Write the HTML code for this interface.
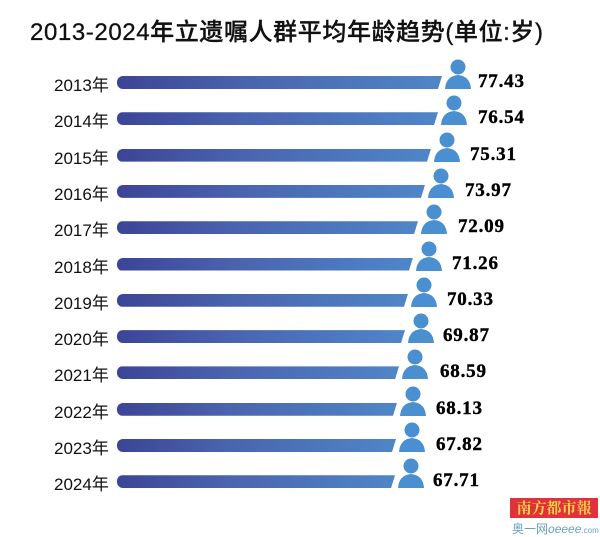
<!DOCTYPE html>
<html><head><meta charset="utf-8"><style>
body{margin:0;width:600px;height:536px;background:#fff;position:relative;overflow:hidden;font-family:"Liberation Sans","Noto Sans CJK SC",sans-serif}
.t{position:absolute;left:30px;top:12px;font-size:24px;color:#111;white-space:nowrap;letter-spacing:0.6px;font-weight:500;-webkit-text-stroke:0.3px #111}
.y{position:absolute;left:54px;font-size:17px;color:#111;width:64px}
.b{position:absolute;left:117px;height:13px;border-radius:6px 0 0 6px;background:linear-gradient(90deg,#3c4496,#4a64ae 40%,#4f86c8);clip-path:polygon(0 0,100% 0,calc(100% - 4px) 100%,0 100%)}
.i{position:absolute;width:28px;height:30px}
.v{position:absolute;font-family:"Liberation Serif",serif;font-weight:bold;font-size:19px;color:#000;letter-spacing:0.8px;-webkit-text-stroke:0.4px #000}
</style></head><body>
<div class="t">2013-2024年立遗嘱人群平均年龄趋势(单位:岁)</div>
<div id="c"></div>
<div style="position:absolute;left:510px;top:498px;width:88px;height:20px;background:#e0323a;color:#f7d54a;font-size:15px;line-height:20px;text-align:center;font-family:'Noto Serif CJK SC',serif;font-weight:bold">南方都市報</div>
<div style="position:absolute;left:512px;top:520px;font-size:12px;color:#6b9fb8;white-space:nowrap">奥一网<i>oeeee</i><span style="font-size:8px">.com</span></div>
<script>
var d=[["2013",77.43,444,478],["2014",76.54,440,478],["2015",75.31,433,470],["2016",73.97,427,465],["2017",72.09,420,458],["2018",71.26,415,452],["2019",70.33,410,447],["2020",69.87,407,443],["2021",68.59,401,440],["2022",68.13,399,436],["2023",67.82,398,436],["2024",67.71,397,433]];
var h="";
d.forEach(function(r,k){var c=81+k*36.3;
h+='<div class="y" style="top:'+(c-10)+'px">'+r[0]+'年</div>';
h+='<div class="b" style="top:'+(c-5)+'px;width:'+(r[2]-119)+'px"></div>';
h+='<svg class="i" style="left:'+r[2]+'px;top:'+(c-22)+'px" viewBox="0 0 28 30"><circle cx="14" cy="8" r="7.5" fill="#4a8fd0"/><path d="M1 30 Q2 17 14 16 Q26 17 27 30Z" fill="#4a8fd0"/></svg>';
h+='<div class="v" style="left:'+r[3]+'px;top:'+(c-10)+'px">'+r[1].toFixed(2)+'</div>';});
document.getElementById("c").innerHTML=h;
</script>
</body></html>
